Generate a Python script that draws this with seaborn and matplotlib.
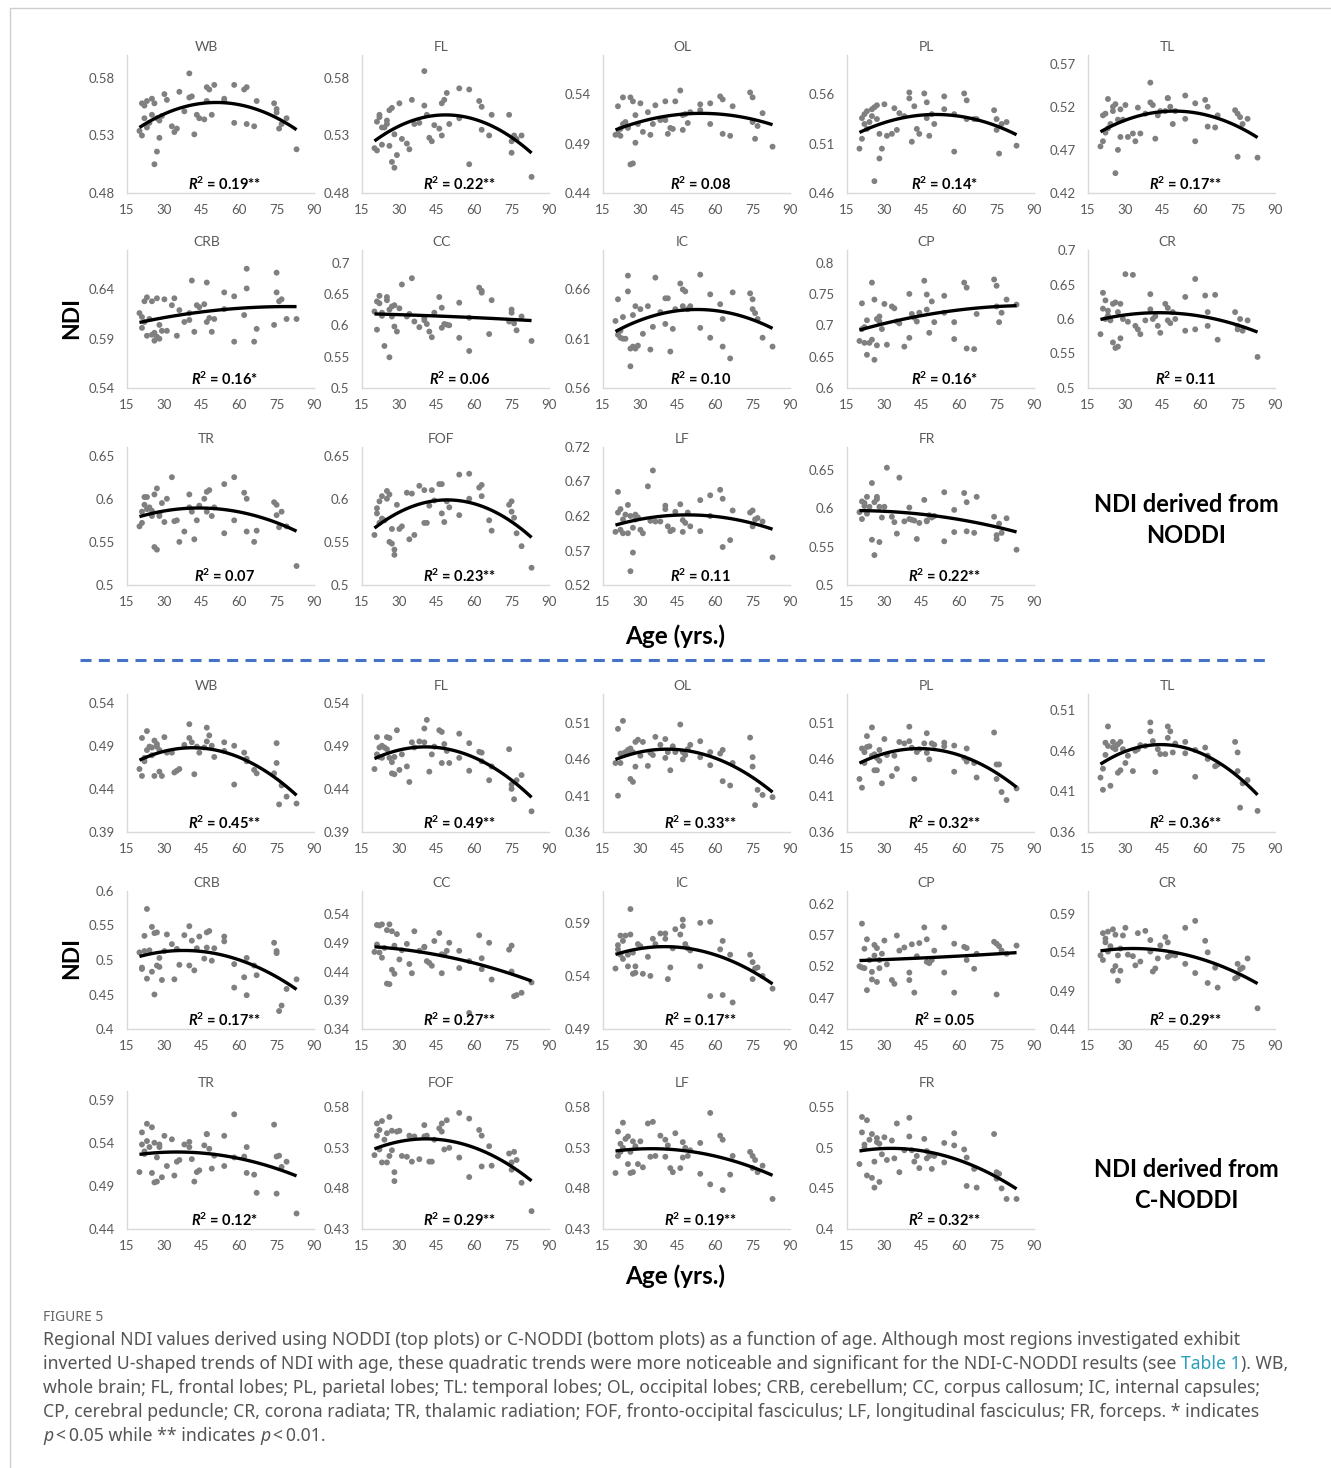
import numpy as np
import pandas as pd
import matplotlib
matplotlib.use("Agg")
import matplotlib.pyplot as plt
from matplotlib.lines import Line2D
import seaborn as sns

# ---------------------------------------------------------------------------
# Data: one age per subject, NDI per region for NODDI and C-NODDI
# ---------------------------------------------------------------------------
AGE = [20, 21, 21, 22, 22, 23, 23,
       24, 25, 25, 26, 26, 27, 27, 28, 28, 29,
       30, 31, 33, 34, 35, 36, 38,
       40, 40, 41, 42, 43, 44,
       46, 47, 47, 48, 49, 50,
       54, 54, 58, 58,
       62, 63, 63, 66, 67,
       74, 75, 75, 76, 77, 79, 83]

REGIONS = ["WB", "FL", "OL", "PL", "TL", "CRB", "CC", "IC", "CP", "CR",
           "TR", "FOF", "LF", "FR"]

# NDI derived from NODDI
NODDI_WB = [0.534, 0.530, 0.558, 0.556, 0.545, 0.560, 0.537,
            0.541, 0.548, 0.562, 0.505, 0.558, 0.516, 0.545, 0.543, 0.528, 0.547,
            0.566, 0.561, 0.538, 0.533, 0.536, 0.568, 0.551,
            0.584, 0.563, 0.564, 0.531, 0.548, 0.545,
            0.544, 0.560, 0.572, 0.570, 0.548, 0.574,
            0.562, 0.560, 0.541, 0.574,
            0.570, 0.572, 0.540, 0.538, 0.560,
            0.558, 0.553, 0.550, 0.536, 0.540, 0.545, 0.518]
NODDI_FL = [0.519, 0.517, 0.542, 0.548, 0.546, 0.522, 0.537,
            0.537, 0.540, 0.543, 0.521, 0.552, 0.554, 0.507, 0.531, 0.502, 0.513,
            0.558, 0.527, 0.523, 0.518, 0.561, 0.540, 0.541,
            0.586, 0.556, 0.548, 0.528, 0.525, 0.539,
            0.536, 0.530, 0.558, 0.561, 0.567, 0.540,
            0.571, 0.545, 0.505, 0.570,
            0.560, 0.555, 0.535, 0.530, 0.548,
            0.548, 0.525, 0.515, 0.530, 0.527, 0.530, 0.494]
NODDI_OL = [0.499, 0.500, 0.528, 0.498, 0.505, 0.537, 0.510,
            0.512, 0.506, 0.507, 0.469, 0.537, 0.470, 0.533, 0.519, 0.491, 0.510,
            0.531, 0.502, 0.522, 0.499, 0.510, 0.529, 0.514,
            0.533, 0.514, 0.500, 0.506, 0.505, 0.533,
            0.544, 0.519, 0.504, 0.520, 0.511, 0.522,
            0.530, 0.524, 0.510, 0.531,
            0.538, 0.535, 0.500, 0.498, 0.528,
            0.542, 0.537, 0.512, 0.495, 0.508, 0.521, 0.487]
NODDI_PL = [0.505, 0.515, 0.536, 0.540, 0.530, 0.543, 0.525,
            0.532, 0.538, 0.545, 0.547, 0.472, 0.535, 0.549, 0.520, 0.495, 0.505,
            0.550, 0.518, 0.520, 0.546, 0.524, 0.541, 0.538,
            0.562, 0.556, 0.512, 0.548, 0.525, 0.520,
            0.561, 0.552, 0.536, 0.518, 0.540, 0.530,
            0.558, 0.545, 0.502, 0.540,
            0.561, 0.554, 0.535, 0.535, 0.535,
            0.544, 0.524, 0.535, 0.500, 0.530, 0.532, 0.508]
NODDI_TL = [0.474, 0.480, 0.510, 0.512, 0.490, 0.529, 0.495,
            0.500, 0.515, 0.520, 0.443, 0.523, 0.505, 0.470, 0.517, 0.485, 0.505,
            0.522, 0.485, 0.489, 0.480, 0.519, 0.489, 0.512,
            0.548, 0.525, 0.522, 0.483, 0.510, 0.515,
            0.515, 0.530, 0.530, 0.520, 0.500, 0.515,
            0.533, 0.506, 0.480, 0.524,
            0.528, 0.520, 0.497, 0.496, 0.510,
            0.516, 0.512, 0.462, 0.508, 0.500, 0.506, 0.461]
NODDI_CRB = [0.616, 0.612, 0.601, 0.628, 0.607, 0.632, 0.593,
             0.610, 0.594, 0.628, 0.588, 0.596, 0.592, 0.631, 0.604, 0.590, 0.598,
             0.630, 0.598, 0.624, 0.631, 0.593, 0.619, 0.607,
             0.616, 0.609, 0.649, 0.597, 0.624, 0.622,
             0.625, 0.647, 0.607, 0.611, 0.597, 0.610,
             0.637, 0.620, 0.587, 0.633,
             0.614, 0.661, 0.641, 0.587, 0.600,
             0.604, 0.637, 0.657, 0.628, 0.630, 0.610, 0.610]
NODDI_CC = [0.622, 0.593, 0.638, 0.635, 0.647, 0.615, 0.620,
            0.567, 0.645, 0.640, 0.549, 0.625, 0.630, 0.614, 0.598, 0.632, 0.590,
            0.627, 0.665, 0.614, 0.618, 0.675, 0.606, 0.597,
            0.612, 0.608, 0.602, 0.590, 0.581, 0.620,
            0.645, 0.628, 0.596, 0.602, 0.601, 0.600,
            0.580, 0.636, 0.612, 0.559,
            0.660, 0.655, 0.652, 0.586, 0.640,
            0.606, 0.620, 0.625, 0.603, 0.592, 0.614, 0.575]
NODDI_IC = [0.628, 0.614, 0.650, 0.611, 0.618, 0.632, 0.610,
            0.610, 0.658, 0.674, 0.582, 0.600, 0.634, 0.602, 0.600, 0.643, 0.603,
            0.640, 0.615, 0.643, 0.599, 0.622, 0.672, 0.637,
            0.625, 0.651, 0.651, 0.597, 0.620, 0.640,
            0.666, 0.660, 0.643, 0.658, 0.640, 0.643,
            0.675, 0.621, 0.611, 0.655,
            0.645, 0.630, 0.602, 0.590, 0.657,
            0.656, 0.650, 0.640, 0.636, 0.630, 0.611, 0.602]
NODDI_CP = [0.675, 0.694, 0.735, 0.672, 0.697, 0.708, 0.653,
            0.672, 0.677, 0.768, 0.645, 0.741, 0.668, 0.710, 0.714, 0.706, 0.694,
            0.734, 0.669, 0.730, 0.727, 0.706, 0.703, 0.666,
            0.750, 0.680, 0.718, 0.712, 0.706, 0.720,
            0.771, 0.749, 0.725, 0.688, 0.738, 0.705,
            0.747, 0.720, 0.678, 0.705,
            0.768, 0.760, 0.663, 0.662, 0.718,
            0.773, 0.763, 0.730, 0.705, 0.720, 0.741, 0.733]
NODDI_CR = [0.578, 0.638, 0.615, 0.600, 0.627, 0.612, 0.605,
            0.598, 0.566, 0.622, 0.558, 0.624, 0.560, 0.610, 0.572, 0.622, 0.600,
            0.665, 0.596, 0.664, 0.590, 0.585, 0.578, 0.598,
            0.636, 0.614, 0.600, 0.604, 0.590, 0.580,
            0.622, 0.616, 0.598, 0.594, 0.610, 0.600,
            0.632, 0.583, 0.658, 0.585,
            0.634, 0.610, 0.590, 0.635, 0.570,
            0.610, 0.590, 0.585, 0.600, 0.583, 0.598, 0.545]
NODDI_TR = [0.568, 0.572, 0.585, 0.602, 0.593, 0.602, 0.588,
            0.590, 0.586, 0.580, 0.544, 0.605, 0.612, 0.541, 0.583, 0.580, 0.595,
            0.573, 0.600, 0.625, 0.574, 0.575, 0.550, 0.562,
            0.605, 0.590, 0.585, 0.553, 0.575, 0.592,
            0.600, 0.608, 0.585, 0.610, 0.580, 0.590,
            0.617, 0.560, 0.575, 0.625,
            0.607, 0.600, 0.562, 0.550, 0.563,
            0.596, 0.593, 0.581, 0.567, 0.585, 0.568, 0.522]
NODDI_FOF = [0.558, 0.583, 0.589, 0.597, 0.572, 0.603, 0.577,
             0.575, 0.609, 0.600, 0.550, 0.605, 0.565, 0.548, 0.541, 0.535, 0.593,
             0.565, 0.568, 0.607, 0.553, 0.606, 0.558, 0.615,
             0.610, 0.572, 0.572, 0.592, 0.610, 0.598,
             0.617, 0.617, 0.583, 0.573, 0.597, 0.590,
             0.628, 0.581, 0.629, 0.600,
             0.613, 0.616, 0.603, 0.575, 0.563,
             0.593, 0.597, 0.585, 0.578, 0.560, 0.545, 0.520]
NODDI_LF = [0.597, 0.655, 0.625, 0.600, 0.630, 0.615, 0.595,
            0.622, 0.595, 0.636, 0.540, 0.620, 0.567, 0.603, 0.622, 0.615, 0.618,
            0.600, 0.595, 0.663, 0.613, 0.686, 0.612, 0.612,
            0.635, 0.630, 0.605, 0.598, 0.600, 0.626,
            0.637, 0.597, 0.614, 0.610, 0.625, 0.605,
            0.643, 0.598, 0.650, 0.620,
            0.658, 0.645, 0.575, 0.585, 0.628,
            0.625, 0.605, 0.628, 0.615, 0.617, 0.612, 0.560]
NODDI_FR = [0.595, 0.609, 0.586, 0.607, 0.603, 0.615, 0.593,
            0.602, 0.559, 0.633, 0.539, 0.608, 0.615, 0.612, 0.602, 0.556, 0.588,
            0.602, 0.653, 0.589, 0.582, 0.567, 0.640, 0.583,
            0.601, 0.586, 0.585, 0.584, 0.560, 0.581,
            0.611, 0.584, 0.583, 0.591, 0.588, 0.590,
            0.557, 0.621, 0.598, 0.569,
            0.620, 0.608, 0.570, 0.568, 0.615,
            0.589, 0.560, 0.565, 0.580, 0.568, 0.587, 0.546]

# NDI derived from C-NODDI
CNODDI_WB = [0.463, 0.499, 0.455, 0.472, 0.476, 0.507, 0.485,
             0.489, 0.479, 0.488, 0.455, 0.496, 0.492, 0.489, 0.460, 0.485, 0.455,
             0.500, 0.482, 0.482, 0.459, 0.461, 0.463, 0.491,
             0.515, 0.499, 0.494, 0.457, 0.489, 0.482,
             0.488, 0.511, 0.495, 0.502, 0.490, 0.477,
             0.494, 0.484, 0.445, 0.490,
             0.482, 0.475, 0.472, 0.462, 0.458,
             0.458, 0.493, 0.470, 0.422, 0.444, 0.431, 0.423]
CNODDI_FL = [0.463, 0.480, 0.500, 0.477, 0.488, 0.476, 0.490,
             0.488, 0.486, 0.500, 0.476, 0.499, 0.471, 0.458, 0.457, 0.477, 0.508,
             0.462, 0.480, 0.466, 0.448, 0.494, 0.488, 0.495,
             0.494, 0.510, 0.520, 0.460, 0.480, 0.489,
             0.508, 0.470, 0.506, 0.492, 0.484, 0.470,
             0.504, 0.476, 0.461, 0.493,
             0.483, 0.482, 0.472, 0.450, 0.466,
             0.486, 0.445, 0.440, 0.428, 0.450, 0.456, 0.414]
CNODDI_OL = [0.455, 0.410, 0.502, 0.455, 0.468, 0.513, 0.468,
             0.470, 0.473, 0.468, 0.433, 0.475, 0.470, 0.429, 0.450, 0.484, 0.487,
             0.465, 0.484, 0.451, 0.469, 0.466, 0.491, 0.480,
             0.488, 0.462, 0.470, 0.445, 0.478, 0.470,
             0.508, 0.460, 0.470, 0.466, 0.474, 0.480,
             0.485, 0.463, 0.452, 0.470,
             0.468, 0.430, 0.473, 0.424, 0.455,
             0.490, 0.463, 0.450, 0.397, 0.418, 0.411, 0.408]
CNODDI_PL = [0.433, 0.421, 0.475, 0.455, 0.470, 0.492, 0.477,
             0.478, 0.465, 0.504, 0.445, 0.467, 0.445, 0.462, 0.458, 0.473, 0.427,
             0.488, 0.466, 0.437, 0.465, 0.447, 0.484, 0.482,
             0.505, 0.485, 0.476, 0.433, 0.470, 0.474,
             0.482, 0.496, 0.469, 0.460, 0.482, 0.480,
             0.483, 0.478, 0.443, 0.479,
             0.462, 0.457, 0.475, 0.455, 0.435,
             0.497, 0.433, 0.453, 0.453, 0.415, 0.404, 0.420]
CNODDI_TL = [0.427, 0.438, 0.412, 0.470, 0.455, 0.490, 0.466,
             0.417, 0.464, 0.471, 0.465, 0.462, 0.468, 0.433, 0.436, 0.471, 0.462,
             0.445, 0.454, 0.435, 0.460, 0.462, 0.467, 0.466,
             0.495, 0.484, 0.472, 0.434, 0.462, 0.456,
             0.456, 0.490, 0.476, 0.484, 0.458, 0.469,
             0.471, 0.457, 0.428, 0.461,
             0.464, 0.450, 0.454, 0.441, 0.443,
             0.471, 0.435, 0.458, 0.390, 0.420, 0.424, 0.386]
CNODDI_CRB = [0.511, 0.489, 0.487, 0.513, 0.535, 0.574, 0.473,
              0.514, 0.548, 0.483, 0.450, 0.539, 0.492, 0.540, 0.503, 0.490, 0.471,
              0.513, 0.537, 0.523, 0.472, 0.516, 0.493, 0.536,
              0.549, 0.492, 0.528, 0.485, 0.517, 0.534,
              0.502, 0.540, 0.518, 0.542, 0.499, 0.517,
              0.534, 0.527, 0.460, 0.494,
              0.475, 0.503, 0.449, 0.492, 0.478,
              0.525, 0.513, 0.510, 0.426, 0.434, 0.458, 0.472]
CNODDI_CC = [0.474, 0.487, 0.521, 0.520, 0.473, 0.522, 0.464,
             0.481, 0.512, 0.419, 0.522, 0.418, 0.510, 0.443, 0.485, 0.436, 0.505,
             0.461, 0.477, 0.488, 0.453, 0.437, 0.510, 0.476,
             0.483, 0.482, 0.458, 0.455, 0.450, 0.493,
             0.507, 0.437, 0.470, 0.469, 0.476, 0.490,
             0.446, 0.476, 0.368, 0.458,
             0.503, 0.444, 0.463, 0.490, 0.426,
             0.478, 0.440, 0.485, 0.397, 0.399, 0.403, 0.421]
CNODDI_IC = [0.547, 0.565, 0.569, 0.578, 0.560, 0.573, 0.556,
             0.578, 0.549, 0.560, 0.603, 0.579, 0.542, 0.562, 0.549, 0.543, 0.570,
             0.568, 0.542, 0.558, 0.540, 0.575, 0.570, 0.580,
             0.580, 0.575, 0.537, 0.548, 0.566, 0.584,
             0.579, 0.593, 0.587, 0.570, 0.566, 0.564,
             0.549, 0.590, 0.591, 0.521,
             0.565, 0.573, 0.522, 0.560, 0.515,
             0.560, 0.537, 0.553, 0.547, 0.548, 0.540, 0.528]
CNODDI_CP = [0.520, 0.518, 0.588, 0.548, 0.517, 0.563, 0.482,
             0.530, 0.511, 0.499, 0.537, 0.554, 0.495, 0.549, 0.530, 0.517, 0.540,
             0.561, 0.523, 0.498, 0.492, 0.569, 0.545, 0.550,
             0.510, 0.498, 0.555, 0.478, 0.536, 0.557,
             0.582, 0.563, 0.527, 0.525, 0.530, 0.545,
             0.510, 0.582, 0.478, 0.556,
             0.551, 0.549, 0.530, 0.516, 0.540,
             0.559, 0.475, 0.556, 0.552, 0.545, 0.540, 0.553]
CNODDI_CR = [0.536, 0.530, 0.565, 0.558, 0.553, 0.567, 0.541,
             0.548, 0.516, 0.570, 0.563, 0.522, 0.536, 0.503, 0.516, 0.545, 0.562,
             0.572, 0.537, 0.535, 0.523, 0.565, 0.528, 0.568,
             0.556, 0.541, 0.515, 0.519, 0.532, 0.549,
             0.560, 0.553, 0.534, 0.536, 0.538, 0.536,
             0.572, 0.525, 0.513, 0.581,
             0.555, 0.540, 0.500, 0.520, 0.494,
             0.506, 0.525, 0.508, 0.518, 0.520, 0.532, 0.467]
CNODDI_TR = [0.506, 0.538, 0.552, 0.530, 0.527, 0.562, 0.542,
             0.535, 0.505, 0.558, 0.540, 0.494, 0.523, 0.495, 0.538, 0.535, 0.500,
             0.548, 0.513, 0.544, 0.502, 0.518, 0.520, 0.538,
             0.541, 0.535, 0.521, 0.495, 0.506, 0.508,
             0.537, 0.550, 0.550, 0.533, 0.510, 0.525,
             0.548, 0.513, 0.573, 0.523,
             0.524, 0.535, 0.505, 0.503, 0.482,
             0.561, 0.481, 0.524, 0.525, 0.512, 0.518, 0.458]
CNODDI_FOF = [0.521, 0.545, 0.560, 0.552, 0.528, 0.563, 0.512,
              0.540, 0.512, 0.548, 0.568, 0.520, 0.527, 0.551, 0.500, 0.489, 0.550,
              0.551, 0.520, 0.519, 0.545, 0.513, 0.544, 0.516,
              0.558, 0.544, 0.545, 0.513, 0.513, 0.540,
              0.554, 0.560, 0.550, 0.528, 0.564, 0.530,
              0.573, 0.518, 0.566, 0.494,
              0.552, 0.545, 0.507, 0.532, 0.508,
              0.523, 0.503, 0.512, 0.525, 0.515, 0.487, 0.452]
CNODDI_LF = [0.499, 0.520, 0.550, 0.535, 0.525, 0.561, 0.530,
             0.541, 0.510, 0.544, 0.525, 0.499, 0.538, 0.500, 0.532, 0.530, 0.510,
             0.538, 0.506, 0.560, 0.519, 0.562, 0.520, 0.545,
             0.540, 0.519, 0.533, 0.505, 0.500, 0.548,
             0.505, 0.537, 0.518, 0.530, 0.520, 0.527,
             0.536, 0.498, 0.573, 0.485,
             0.545, 0.478, 0.540, 0.497, 0.520,
             0.525, 0.505, 0.520, 0.515, 0.500, 0.508, 0.467]
CNODDI_FR = [0.480, 0.519, 0.538, 0.500, 0.504, 0.534, 0.466,
             0.510, 0.463, 0.517, 0.451, 0.483, 0.507, 0.512, 0.458, 0.505, 0.492,
             0.513, 0.485, 0.509, 0.487, 0.530, 0.470, 0.497,
             0.537, 0.514, 0.497, 0.483, 0.490, 0.475,
             0.511, 0.487, 0.496, 0.490, 0.474, 0.490,
             0.506, 0.482, 0.518, 0.503,
             0.498, 0.488, 0.453, 0.474, 0.451,
             0.517, 0.470, 0.462, 0.468, 0.450, 0.437, 0.437]

# Goodness of fit of the quadratic trend and its significance flag
NODDI_R2 = [0.19, 0.22, 0.08, 0.14, 0.17, 0.16, 0.06, 0.10, 0.16, 0.11,
            0.07, 0.23, 0.11, 0.22]
NODDI_SIG = ["**", "**", "", "*", "**", "*", "", "", "*", "",
             "", "**", "", "**"]
CNODDI_R2 = [0.45, 0.49, 0.33, 0.32, 0.36, 0.17, 0.27, 0.17, 0.05, 0.29,
             0.12, 0.29, 0.19, 0.32]
CNODDI_SIG = ["**", "**", "**", "**", "**", "**", "**", "**", "", "**",
              "*", "**", "**", "**"]

# Value-axis ranges (min, max)
NODDI_YAXIS = [(0.48, 0.60), (0.48, 0.60), (0.44, 0.58), (0.46, 0.60), (0.42, 0.58),
               (0.54, 0.68), (0.50, 0.72), (0.56, 0.70), (0.60, 0.82), (0.50, 0.70),
               (0.50, 0.66), (0.50, 0.66), (0.52, 0.72), (0.50, 0.68)]
CNODDI_YAXIS = [(0.39, 0.55), (0.39, 0.55), (0.36, 0.55), (0.36, 0.55), (0.36, 0.53),
                (0.40, 0.60), (0.34, 0.58), (0.49, 0.62), (0.42, 0.64), (0.44, 0.62),
                (0.44, 0.60), (0.43, 0.60), (0.43, 0.60), (0.40, 0.57)]

NODDI_SERIES = [NODDI_WB, NODDI_FL, NODDI_OL, NODDI_PL, NODDI_TL,
                NODDI_CRB, NODDI_CC, NODDI_IC, NODDI_CP, NODDI_CR,
                NODDI_TR, NODDI_FOF, NODDI_LF, NODDI_FR]
CNODDI_SERIES = [CNODDI_WB, CNODDI_FL, CNODDI_OL, CNODDI_PL, CNODDI_TL,
                 CNODDI_CRB, CNODDI_CC, CNODDI_IC, CNODDI_CP, CNODDI_CR,
                 CNODDI_TR, CNODDI_FOF, CNODDI_LF, CNODDI_FR]

for s in NODDI_SERIES + CNODDI_SERIES:
    assert len(s) == len(AGE)

# ---------------------------------------------------------------------------
# Style
# ---------------------------------------------------------------------------
sns.set_theme(style="white")
plt.rcParams["font.family"] = ["Lato", "DejaVu Sans"]
plt.rcParams["mathtext.fontset"] = "custom"
plt.rcParams["mathtext.rm"] = "Lato"
plt.rcParams["mathtext.it"] = "Lato:italic"
plt.rcParams["mathtext.bf"] = "Lato:bold"
try:
    plt.rcParams["mathtext.bfit"] = "Lato:italic:bold"
except KeyError:
    pass

W, H = 1331, 1468
fig = plt.figure(figsize=(W / 100, H / 100), dpi=100)
fig.patch.set_facecolor("white")

TICK_GREY = "#595959"
SPINE_GREY = "#d9d9d9"
DOT_GREY = "#808080"

COL_LEFT = [127, 362, 603, 847, 1088]
ROW_TOP = [55, 250, 447, 694, 891, 1091]
AX_W, AX_H = 187, 138


def px_axes(left, top, width, height):
    return fig.add_axes([left / W, 1 - (top + height) / H, width / W, height / H])


def draw_panel(ax, region, values, ylim, r2, sig):
    df = pd.DataFrame({"age": AGE, "ndi": values})
    sns.regplot(data=df, x="age", y="ndi", order=2, ci=None, truncate=True, ax=ax,
                scatter_kws=dict(s=18, color=DOT_GREY, alpha=1, linewidths=0,
                                 edgecolor="none", zorder=2),
                line_kws=dict(color="black", lw=2.4, zorder=3,
                              solid_capstyle="butt"))
    lo, hi = ylim
    ax.set_xlim(15, 90)
    ax.set_ylim(lo, hi)
    ax.set_xticks(np.arange(15, 91, 15))
    yt = np.round(np.arange(lo, hi + 1e-9, 0.05), 2)
    ax.set_yticks(yt)
    ax.set_yticklabels([f"{v:g}" for v in yt])
    ax.set_xlabel("")
    ax.set_ylabel("")
    for side in ("top", "right"):
        ax.spines[side].set_visible(False)
    for side in ("left", "bottom"):
        ax.spines[side].set_color(SPINE_GREY)
        ax.spines[side].set_linewidth(1.0)
    ax.tick_params(axis="both", length=0, labelsize=9.5, colors=TICK_GREY)
    ax.tick_params(axis="x", pad=8)
    ax.tick_params(axis="y", pad=9)
    ax.set_title(region, fontsize=10, color=TICK_GREY, pad=3, x=0.425)
    ax.text(0.52, 0.06, r"$\mathbfit{R}^{\mathbf{2}}$" + f" = {r2:.2f}{sig}",
            transform=ax.transAxes, ha="center", va="center",
            fontsize=10.5, fontweight="bold", color="black")
    ax.set_facecolor("none")


blocks = [(NODDI_SERIES, NODDI_YAXIS, NODDI_R2, NODDI_SIG),
          (CNODDI_SERIES, CNODDI_YAXIS, CNODDI_R2, CNODDI_SIG)]
for b, (series, yaxes, r2s, sigs) in enumerate(blocks):
    for i, region in enumerate(REGIONS):
        r, c = divmod(i, 5)
        ax = px_axes(COL_LEFT[c], ROW_TOP[3 * b + r], AX_W, AX_H)
        draw_panel(ax, region, series[i], yaxes[i], r2s[i], sigs[i])


def fx(x):
    return x / W


def fy(y):
    return 1 - y / H


# Axis titles and block labels
for y_ndi, y_age, y_lab, method in [(318, 636, 520, "NODDI"), (958, 1276, 1185, "C-NODDI")]:
    fig.text(fx(72), fy(y_ndi), "NDI", rotation=90, ha="center", va="center",
             fontsize=16.5, fontweight="bold", color="black")
    fig.text(fx(675), fy(y_age), "Age (yrs.)", ha="center", va="center",
             fontsize=17.5, fontweight="bold", color="black")
    fig.text(fx(1186), fy(y_lab), f"NDI derived from\n{method}", ha="center",
             va="center", fontsize=17, fontweight="bold", color="black",
             linespacing=1.45)

# Separator between the two method blocks
fig.add_artist(Line2D([fx(80), fx(1270)], [fy(660), fy(660)], transform=fig.transFigure,
                      color="#4472c4", lw=2.2, dashes=(3.6, 2.4)))

# Page frame
fig.add_artist(Line2D([fx(10), 1.0], [fy(8), fy(8)], transform=fig.transFigure,
                      color="#cfcfcf", lw=1))
fig.add_artist(Line2D([fx(10), fx(10)], [fy(8), 0.0], transform=fig.transFigure,
                      color="#cfcfcf", lw=1))

# Caption
CAP_FONT = ["Noto Sans", "DejaVu Sans"]
CAP_GREY = "#555555"
CAP_SIZE = 12.7
fig.text(fx(43), fy(1321), "FIGURE 5", fontsize=10, color="#666666",
         family=CAP_FONT, va="baseline")

renderer = fig.canvas.get_renderer()


def rich_line(x_px, y_px, segments):
    x = x_px
    for text, style, color in segments:
        t = fig.text(fx(x), fy(y_px), text, fontsize=CAP_SIZE, color=color,
                     fontstyle=style, family=CAP_FONT, va="baseline")
        x += t.get_window_extent(renderer=renderer).width


caption = [
    [("Regional NDI values derived using NODDI (top plots) or C-NODDI (bottom plots) as a "
      "function of age. Although most regions investigated exhibit", "normal", CAP_GREY)],
    [("inverted U-shaped trends of NDI with age, these quadratic trends were more noticeable "
      "and significant for the NDI-C-NODDI results (see ", "normal", CAP_GREY),
     ("Table 1", "normal", "#2a9fbc"), ("). WB,", "normal", CAP_GREY)],
    [("whole brain; FL, frontal lobes; PL, parietal lobes; TL: temporal lobes; OL, occipital "
      "lobes; CRB, cerebellum; CC, corpus callosum; IC, internal capsules;", "normal", CAP_GREY)],
    [("CP, cerebral peduncle; CR, corona radiata; TR, thalamic radiation; FOF, fronto-occipital "
      "fasciculus; LF, longitudinal fasciculus; FR, forceps. * indicates", "normal", CAP_GREY)],
    [("p", "italic", CAP_GREY), ("\u2009<\u20090.05 while ** indicates ", "normal", CAP_GREY),
     ("p", "italic", CAP_GREY), ("\u2009<\u20090.01.", "normal", CAP_GREY)],
]
for k, segs in enumerate(caption):
    rich_line(43, 1345 + 24 * k, segs)

fig.savefig("out.png", dpi=100, facecolor="white")
